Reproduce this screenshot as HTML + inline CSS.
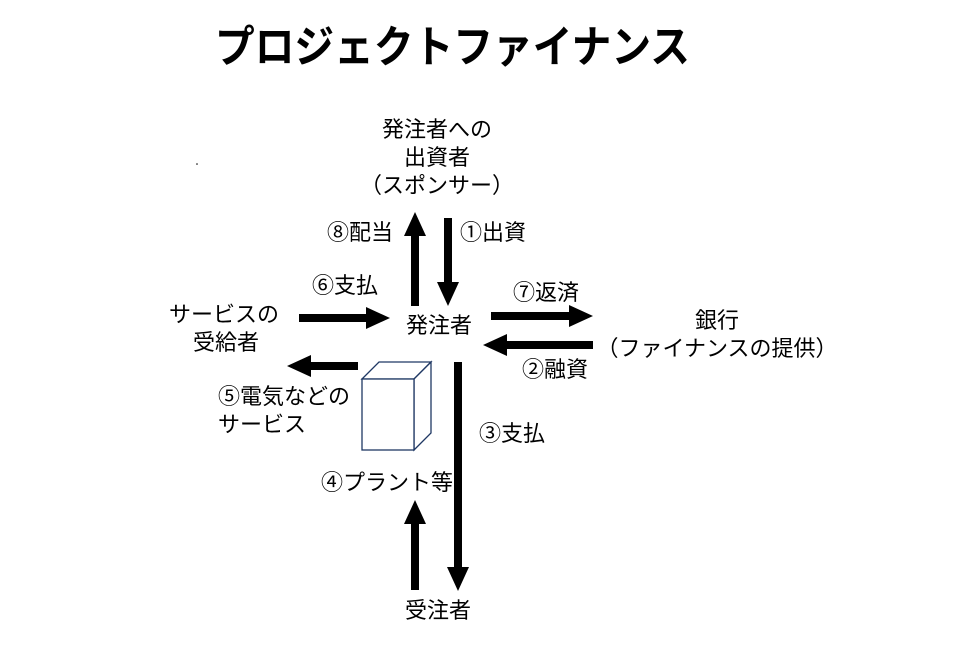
<!DOCTYPE html>
<html><head><meta charset="utf-8"><style>
html,body{margin:0;padding:0;background:#fff;width:955px;height:647px;overflow:hidden}
svg text{font-family:"Liberation Sans","Noto Sans CJK JP",sans-serif;fill:#000}
</style></head><body>
<svg width="955" height="647" viewBox="0 0 955 647" xmlns="http://www.w3.org/2000/svg">
<text x="215" y="62" font-size="44" font-weight="bold" textLength="475" lengthAdjust="spacingAndGlyphs">プロジェクトファイナンス</text>
<g font-size="22">
<text x="437" y="137" text-anchor="middle">発注者への</text>
<text x="437" y="165" text-anchor="middle">出資者</text>
<text x="437" y="193" text-anchor="middle">（スポンサー）</text>
<text x="327" y="240">⑧配当</text>
<text x="460" y="240">①出資</text>
<text x="312" y="293">⑥支払</text>
<text x="513" y="300">⑦返済</text>
<text x="169" y="322">サービスの</text>
<text x="226" y="350" text-anchor="middle">受給者</text>
<text x="439" y="333" text-anchor="middle">発注者</text>
<text x="717" y="328" text-anchor="middle">銀行</text>
<text x="717" y="356" text-anchor="middle">（ファイナンスの提供）</text>
<text x="522" y="377">②融資</text>
<text x="218" y="404">⑤電気などの</text>
<text x="218" y="432">サービス</text>
<text x="479" y="441">③支払</text>
<text x="321" y="490">④プラント等</text>
<text x="438" y="618" text-anchor="middle">受注者</text>
</g>
<g fill="#000">
<rect x="411" y="234" width="8" height="72"/><polygon points="404,236 426,236 415,212"/>
<rect x="444" y="218" width="8" height="65"/><polygon points="437,282 459,282 448,306"/>
<rect x="299" y="314" width="68" height="8"/><polygon points="366,307 366,329 390,318"/>
<rect x="491" y="312" width="79" height="8"/><polygon points="569,305 569,327 593,316"/>
<rect x="506" y="341" width="87" height="8"/><polygon points="507,334 507,356 483,345"/>
<rect x="310" y="362" width="48" height="8"/><polygon points="311,355 311,377 287,366"/>
<rect x="454" y="362" width="8" height="206"/><polygon points="447,567 469,567 458,591"/>
<rect x="411" y="522" width="8" height="68"/><polygon points="404,524 426,524 415,500"/>
</g>
<g fill="#fff" stroke="#1f3864" stroke-width="1.3">
<polygon points="362,379 379,362 431,362 414,379"/>
<polygon points="414,379 431,362 431,433 414,450"/>
<rect x="362" y="379" width="52" height="71"/>
</g>
<circle cx="197" cy="164" r="0.8" fill="#000"/>
</svg>
</body></html>
